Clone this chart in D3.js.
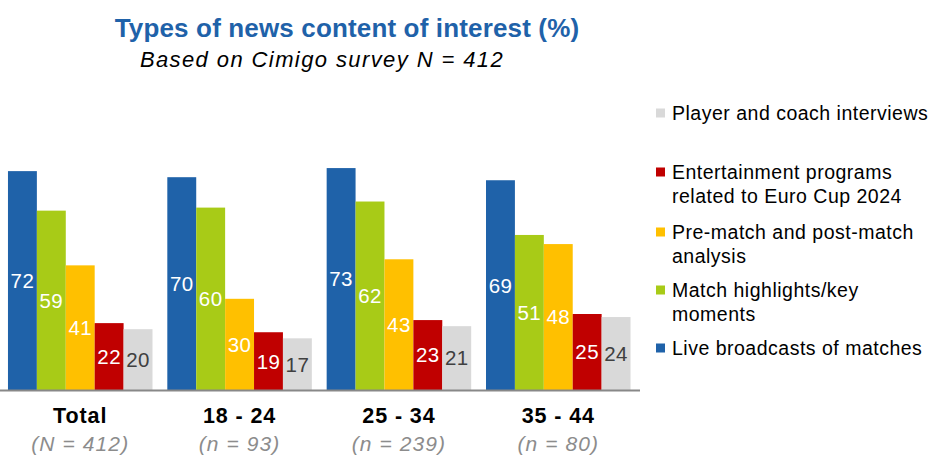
<!DOCTYPE html>
<html>
<head>
<meta charset="utf-8">
<script src="https://cdn.jsdelivr.net/npm/d3@7/dist/d3.min.js"></script>
<style>
  body { margin: 0; background: #fff; }
  svg { display: block; font-family: "Liberation Sans", Arial, sans-serif; }
</style>
</head>
<body>
<svg id="chart" width="938" height="472"></svg>
<script>
const categories = ["Total", "18 - 24", "25 - 34", "35 - 44"];
const sampleLabels = ["(N = 412)", "(n = 93)", "(n = 239)", "(n = 80)"];
const seriesNames = [
  "Live broadcasts of matches",
  "Match highlights/key moments",
  "Pre-match and post-match analysis",
  "Entertainment programs related to Euro Cup 2024",
  "Player and coach interviews"
];
const liveBroadcasts = [72, 70, 73, 69];
const matchHighlights = [59, 60, 62, 51];
const prePostAnalysis = [41, 30, 43, 48];
const entertainment = [22, 19, 23, 25];
const interviews = [20, 17, 21, 24];
const seriesValues = [liveBroadcasts, matchHighlights, prePostAnalysis, entertainment, interviews];
const colors = ["#1f62a9", "#a8cb17", "#ffc000", "#c00000", "#d9d9d9"];
const labelColors = ["#ffffff", "#ffffff", "#ffffff", "#ffffff", "#404040"];
const legendLines = [
  ["Player and coach interviews"],
  ["Entertainment programs", "related to Euro Cup 2024"],
  ["Pre-match and post-match", "analysis"],
  ["Match highlights/key", "moments"],
  ["Live broadcasts of matches"]
];
const legendSeriesIndex = [4, 3, 2, 1, 0];

const svg = d3.select("#chart");
const baseY = 390;

const x0 = d3.scaleBand().domain(categories).range([0, 638.5]).paddingInner(0.093).paddingOuter(0.05);
const x1 = d3.scaleBand().domain(d3.range(seriesNames.length)).range([0, x0.bandwidth()]);
const y = d3.scaleLinear().domain([0, 100]).range([baseY, 86]);

// Title
svg.append("text").attr("x", 347).attr("y", 37).attr("text-anchor", "middle")
  .attr("font-size", 26).attr("font-weight", "bold").attr("fill", "#1f62a9")
  .attr("letter-spacing", 0.15)
  .text("Types of news content of interest (%)");
svg.append("text").attr("x", 322).attr("y", 67).attr("text-anchor", "middle")
  .attr("font-size", 22).attr("font-style", "italic").attr("fill", "#000")
  .attr("letter-spacing", 1.4)
  .text("Based on Cimigo survey N = 412");

// Bars
const groups = svg.append("g").selectAll("g").data(categories).join("g")
  .attr("transform", d => `translate(${x0(d)},0)`);

groups.each(function(cat, ci) {
  const g = d3.select(this);
  seriesValues.forEach((vals, si) => {
    const v = vals[ci];
    g.append("rect")
      .attr("x", x1(si)).attr("width", x1.bandwidth())
      .attr("y", y(v)).attr("height", y(0) - y(v))
      .attr("fill", colors[si]);
    g.append("text")
      .attr("x", x1(si) + x1.bandwidth() / 2)
      .attr("y", (y(v) + y(0)) / 2)
      .attr("dy", "0.36em")
      .attr("text-anchor", "middle")
      .attr("font-size", 20.5)
      .attr("letter-spacing", 0.4)
      .attr("fill", labelColors[si])
      .text(v);
  });
});

// Axis
const xAxis = d3.axisBottom(x0).tickSize(0).tickFormat("");
const axisG = svg.append("g").attr("transform", `translate(0,${baseY})`).call(xAxis);
axisG.select(".domain").attr("stroke", "#888888").attr("stroke-width", 2).attr("d", "M0,0.5H640");

// Category labels
svg.append("g").selectAll("text").data(categories).join("text")
  .attr("x", d => x0(d) + x0.bandwidth() / 2).attr("y", 423)
  .attr("text-anchor", "middle").attr("font-size", 21.5).attr("font-weight", "bold")
  .attr("letter-spacing", 0.9).attr("fill", "#000")
  .text(d => d);
svg.append("g").selectAll("text").data(sampleLabels).join("text")
  .attr("x", (d, i) => x0(categories[i]) + x0.bandwidth() / 2).attr("y", 451)
  .attr("text-anchor", "middle").attr("font-size", 21).attr("font-style", "italic")
  .attr("letter-spacing", 1.1).attr("fill", "#8c8c8c")
  .text(d => d);

// Legend
const legendTops = [113, 172, 232, 290, 348];
const legend = svg.append("g");
legendLines.forEach((lines, i) => {
  const si = legendSeriesIndex[i];
  const cy = legendTops[i];
  legend.append("rect").attr("x", 656).attr("y", cy - 4.5).attr("width", 9).attr("height", 9)
    .attr("fill", colors[si]);
  lines.forEach((ln, li) => {
    legend.append("text").attr("x", 672).attr("y", cy + li * 24).attr("dy", "0.36em")
      .attr("font-size", 19.5).attr("letter-spacing", 0.5).attr("fill", "#000")
      .text(ln);
  });
});
</script>
</body>
</html>
